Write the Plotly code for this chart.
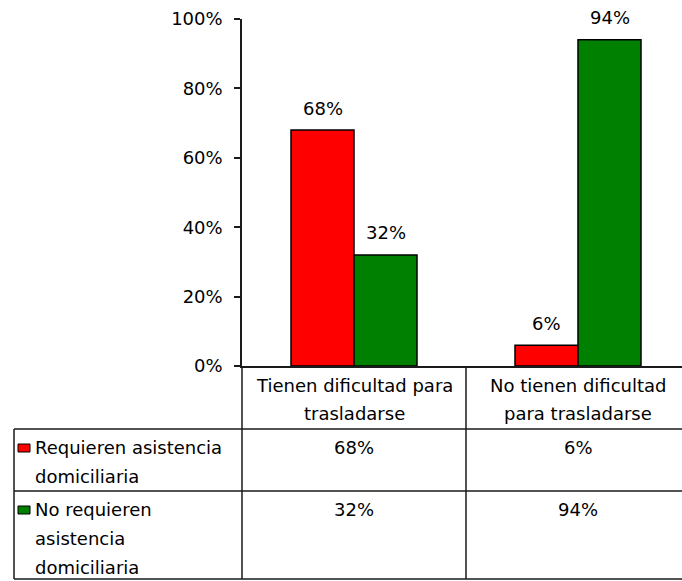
import plotly.graph_objects as go

# ---- data ----
categories = ["Tienen dificultad para<br>trasladarse", "No tienen dificultad<br>para trasladarse"]
series_names = ["Requieren asistencia<br>domiciliaria", "No requieren<br>asistencia<br>domiciliaria"]
requieren = [0.68, 0.06]
no_requieren = [0.32, 0.94]
series_values = [requieren, no_requieren]
series_colors = ["#ff0000", "#008000"]
y_ticks = [0, 0.2, 0.4, 0.6, 0.8, 1.0]

# ---- page geometry (pixels) ----
W, H = 682, 581
FONT = "DejaVu Sans"
FS = 18
AXIS_X = 242          # left edge of plot / value axis
ZERO_Y = 366          # 0% baseline
TOP_Y = 19            # 100% line
CAT_W = 224           # width of one category slot
LEFT_X = 14           # left border of the data table
HEADER_BOTTOM = 429
ROW_BOTTOMS = [491, 579]
LINE_GAP = 28
ROW_LINE_GAP = 29
LINE_COLOR = "#1a1a1a"


def px(x):
    return x / W


def py(y):
    return 1 - y / H


fig = go.Figure()

cat_pos = list(range(len(categories)))
for name, vals, color in zip(series_names, series_values, series_colors):
    fig.add_trace(go.Bar(
        x=cat_pos, y=vals, name=name.replace("<br>", " "),
        marker=dict(color=color, line=dict(color="black", width=1.5)),
        showlegend=False, hoverinfo="skip",
    ))

annotations = []
shapes = []

# value labels above the bars
n_series = len(series_values)
bar_px = CAT_W * 0.5625 / n_series
for s, vals in enumerate(series_values):
    offset = (s - (n_series - 1) / 2) * bar_px
    for i, v in enumerate(vals):
        annotations.append(dict(
            x=cat_pos[i], y=v, xref="x", yref="y", text=f"{v:.0%}",
            showarrow=False, xshift=offset, yshift=22, yanchor="middle",
            font=dict(family=FONT, size=FS, color="black"),
        ))

# table header: category names
for i, cat in enumerate(categories):
    for k, line in enumerate(cat.split("<br>")):
        annotations.append(dict(
            x=cat_pos[i], y=py(385 + k * LINE_GAP), xref="x", yref="paper",
            text=line, showarrow=False, yanchor="middle", xanchor="center",
            font=dict(family=FONT, size=FS, color="black"),
        ))

# table rows: legend key, series name and values
row_tops = [HEADER_BOTTOM] + ROW_BOTTOMS[:-1]
for s, (name, vals, color) in enumerate(zip(series_names, series_values, series_colors)):
    top = row_tops[s]
    first_line = top + 18
    shapes.append(dict(
        type="rect", xref="paper", yref="paper",
        x0=px(18), x1=px(30), y0=py(top + 15), y1=py(top + 23),
        fillcolor=color, line=dict(color="black", width=1),
    ))
    for k, line in enumerate(name.split("<br>")):
        annotations.append(dict(
            x=px(33), y=py(first_line + k * ROW_LINE_GAP), xref="paper", yref="paper",
            text=line, showarrow=False, xanchor="left", yanchor="middle",
            font=dict(family=FONT, size=FS, color="black"),
        ))
    for i, v in enumerate(vals):
        annotations.append(dict(
            x=cat_pos[i], y=py(first_line), xref="x", yref="paper",
            text=f"{v:.0%}", showarrow=False, yanchor="middle",
            font=dict(family=FONT, size=FS, color="black"),
        ))

# table grid
for yb in [HEADER_BOTTOM] + ROW_BOTTOMS:
    shapes.append(dict(type="line", xref="paper", yref="paper",
                       x0=px(LEFT_X), x1=1, y0=py(yb), y1=py(yb),
                       line=dict(color=LINE_COLOR, width=1.5)))
shapes.append(dict(type="line", xref="paper", yref="paper",
                   x0=px(LEFT_X), x1=px(LEFT_X), y0=py(HEADER_BOTTOM), y1=py(ROW_BOTTOMS[-1]),
                   line=dict(color=LINE_COLOR, width=1.5)))
for i in range(len(categories)):
    xv = px(AXIS_X + i * CAT_W)
    shapes.append(dict(type="line", xref="paper", yref="paper",
                       x0=xv, x1=xv, y0=py(ZERO_Y), y1=py(ROW_BOTTOMS[-1]),
                       line=dict(color=LINE_COLOR, width=1.5)))

fig.update_layout(
    width=W, height=H,
    margin=dict(l=0, r=0, t=0, b=0),
    paper_bgcolor="white", plot_bgcolor="white",
    barmode="group", bargap=0.4375, bargroupgap=0,
    font=dict(family=FONT, size=FS, color="black"),
    annotations=annotations, shapes=shapes,
    xaxis=dict(
        domain=[px(AXIS_X), 1], automargin=False,
        range=[-0.5, -0.5 + (W - AXIS_X) / CAT_W],
        showticklabels=False, ticks="", showgrid=False, zeroline=False,
        showline=True, linecolor=LINE_COLOR, linewidth=1.5,
    ),
    yaxis=dict(
        domain=[py(ZERO_Y), py(TOP_Y)], automargin=False,
        range=[0, 1], tickvals=y_ticks, tickformat=".0%",
        ticks="outside", ticklen=6, tickwidth=1.5, tickcolor=LINE_COLOR,
        ticklabelstandoff=8,
        showgrid=False, zeroline=False,
        showline=True, linecolor=LINE_COLOR, linewidth=1.5,
        tickfont=dict(family=FONT, size=FS, color="black"),
    ),
)

fig.write_html("out.html")
